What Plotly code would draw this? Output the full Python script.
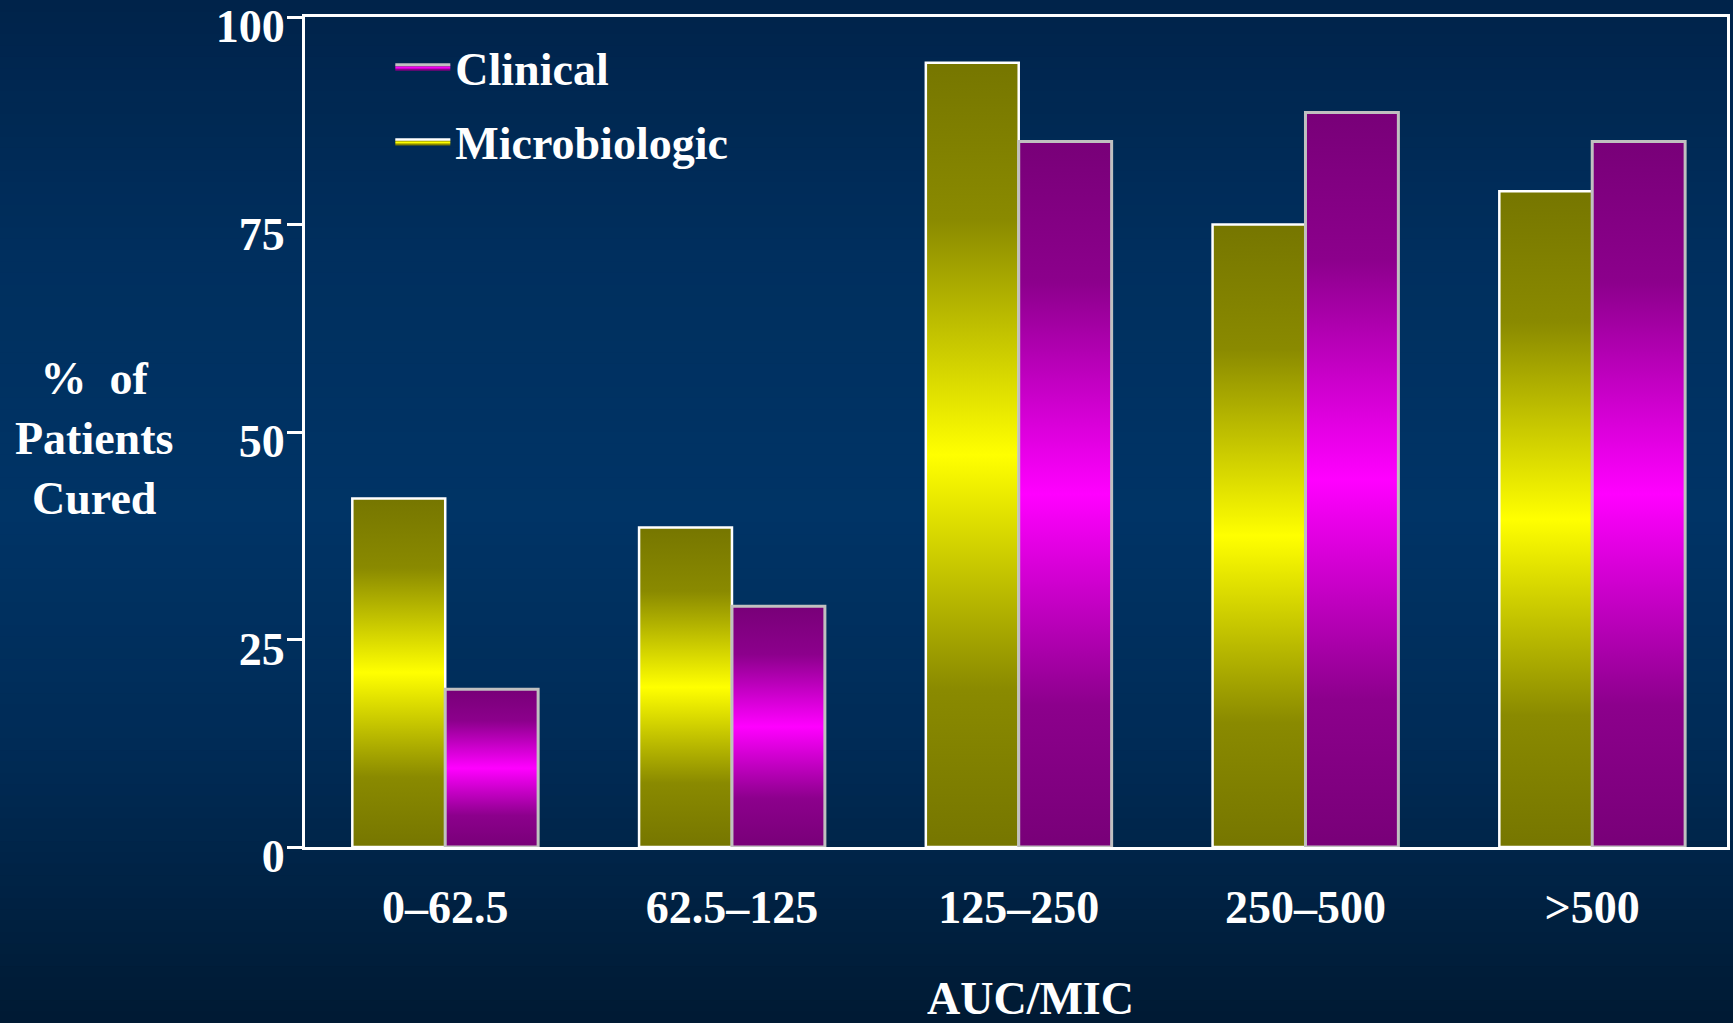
import plotly.graph_objects as go

# ---- data ----
categories = ["0\u201362.5", "62.5\u2013125", "125\u2013250", "250\u2013500", ">500"]
microbiologic = [42, 38.5, 94.5, 75, 79]
clinical = [19, 29, 85, 88.5, 85]
y_ticks = [0, 25, 50, 75, 100]

W, H = 1733, 1023
L, R, T, B = 305, 6, 17, 176
BAR_W = 0.324
FONT = dict(family="Liberation Serif", color="white", weight="bold")

fig = go.Figure()

# background gradient strips (paper coordinates)
bg_stops = [(0.0, (0x00, 0x23, 0x4a)), (0.25, (0x00, 0x2f, 0x5e)),
            (0.5, (0x00, 0x34, 0x66)), (0.73, (0x00, 0x2b, 0x56)),
            (1.0, (0x00, 0x1a, 0x33))]


def bg_color(f):
    for (f0, c0), (f1, c1) in zip(bg_stops[:-1], bg_stops[1:]):
        if f0 <= f <= f1:
            t = (f - f0) / (f1 - f0)
            return "rgb(%d,%d,%d)" % tuple(round(a + (b - a) * t) for a, b in zip(c0, c1))
    return "rgb(0,26,51)"


ph = H - T - B
pw = W - L - R
N = 90
shapes = []
for k in range(N):
    py0 = H * k / N
    py1 = H * (k + 1) / N + 1
    shapes.append(dict(
        type="rect", xref="paper", yref="paper", layer="below",
        x0=-L / pw - 0.01, x1=1 + R / pw + 0.01,
        y0=(H - B - py1) / ph, y1=(H - B - py0) / ph,
        fillcolor=bg_color((k + 0.5) / N), line=dict(width=0)))

yellow_scale = [[0, "#767600"], [0.2, "#8a8a00"], [0.5, "#ffff00"], [0.8, "#8a8a00"], [1, "#767600"]]
magenta_scale = [[0, "#780078"], [0.2, "#8c008c"], [0.5, "#ff00ff"], [0.8, "#8c008c"], [1, "#780078"]]

series = [
    ("Microbiologic", microbiologic, -1, yellow_scale, "white", 2.5, 2),
    ("Clinical", clinical, 0, magenta_scale, "#c0c0c0", 3, 1),
]

for name, vals, side, scale, lc, lw, rank in series:
    for i, v in enumerate(vals):
        x0 = i + side * BAR_W
        x1 = x0 + BAR_W
        fig.add_trace(go.Scatter(
            x=[x0, x0, x1, x1, x0], y=[0, v, v, 0, 0],
            mode="lines", fill="toself",
            fillgradient=dict(type="vertical", colorscale=scale),
            line=dict(color=lc, width=lw),
            name=name, legendgroup=name, legendrank=rank,
            showlegend=(i == 0), hoverinfo="skip"))

fig.update_layout(
    width=W, height=H,
    margin=dict(l=L, r=R, t=T, b=B, autoexpand=False),
    paper_bgcolor="#002a55",
    plot_bgcolor="rgba(0,0,0,0)",
    shapes=shapes,
    font=dict(family="Liberation Serif", color="white", size=46),
    showlegend=True,
    legend=dict(x=0.06, y=0.984, xanchor="left", yanchor="top",
                bgcolor="rgba(0,0,0,0)", font=dict(size=46, **FONT),
                tracegroupgap=12, itemwidth=55),
    xaxis=dict(range=[-0.489, 4.47], tickmode="array", automargin=False,
               tickvals=list(range(len(categories))), ticktext=categories,
               showline=True, linecolor="white", linewidth=3, mirror=True,
               ticks="", showgrid=False, zeroline=False,
               tickfont=dict(size=46, **FONT), ticklabelstandoff=18),
    yaxis=dict(range=[0, 100], tickmode="array", tickvals=y_ticks, automargin=False,
               showline=True, linecolor="white", linewidth=3, mirror=True,
               ticks="outside", ticklen=15, tickwidth=3, tickcolor="white",
               showgrid=False, zeroline=False, ticklabeloverflow="allow",
               ticklabelstandoff=-7, ticklabelshift=9,
               tickfont=dict(size=46, **FONT)),
    annotations=[
        dict(text="%  of<br>Patients<br>Cured", xref="paper", yref="paper",
             x=(94 - L) / pw, y=(H - B - 439) / ph, xanchor="center", yanchor="middle",
             showarrow=False, font=dict(size=46, **FONT), align="center"),
        dict(text="AUC/MIC", xref="paper", yref="paper",
             x=(1030 - L) / pw, y=(H - B - 999) / ph, xanchor="center", yanchor="middle",
             showarrow=False, font=dict(size=46, **FONT)),
    ],
)

fig.write_html("out.html", config={"displayModeBar": False},
               post_script="document.body.style.margin='0';document.body.style.background='#001a33';")
